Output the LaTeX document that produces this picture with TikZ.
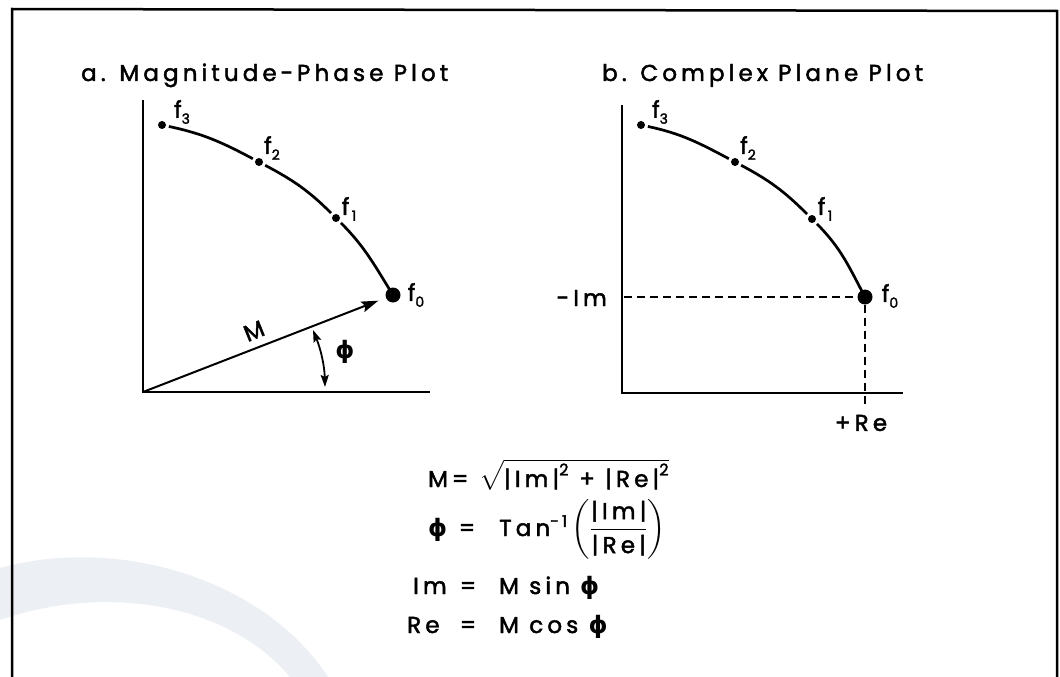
\documentclass[tikz,border=0pt]{standalone}
\usepackage{fontspec}
\usepackage{amsmath}
\setmainfont{Poppins}
\newfontfamily\lab{Poppins}[LetterSpace=18, FakeBold=2]
\newfontfamily\dv{DejaVu Sans}
\usetikzlibrary{arrows.meta}
\definecolor{wm}{RGB}{236,239,244}
\newcommand\fsub[1]{\raisebox{-6pt}{\fontsize{14}{14}\selectfont #1}}
\newcommand\phisym{{\dv\bfseries ϕ}}
\tikzset{
  axisln/.style={line width=2.7pt},
  curveln/.style={line width=2.7pt},
  dashln/.style={line width=1.7pt, dash pattern=on 8pt off 5pt},
  sdot/.style={circle, fill, inner sep=0pt, minimum size=8pt, outer sep=3pt},
  bdot/.style={circle, fill, inner sep=0pt, minimum size=15pt},
  txt/.style={font=\lab\fontsize{23}{27}\selectfont, inner sep=0pt},
  flab/.style={font=\lab\fontsize{23}{27}\selectfont, inner sep=0pt},
  arr/.style={line width=2pt, -{Stealth[length=17pt,width=11pt,inset=3pt]}},
  dbl/.style={line width=1.8pt, {Stealth[length=12pt,width=8pt,inset=2pt]}-{Stealth[length=12pt,width=8pt,inset=2pt]}}
}
\begin{document}
\begin{tikzpicture}[x=1pt,y=-1pt]
\useasboundingbox (0,0) rectangle (1060,677);
% watermark
\fill[wm] (0,568) .. controls (120,535) and (265,580) .. (328,677) -- (290,677) .. controls (225,600) and (100,585) .. (0,620) -- cycle;
% frame
\draw[line width=2.5pt] (12,677) -- (12,9) -- (1057,11) -- (1057,677);

% titles
\node[txt, anchor=base west] (ta) at (81,81) {a. Magnitude\,-\,Phase Plot};
\node[txt, anchor=base west] (tb) at (602,81) {b. Complex Plane Plot};

% ---- left plot
\coordinate (o1) at (143,392);
\coordinate (ytop1) at (143,100);
\coordinate (xend1) at (430,392);
\draw[axisln] (ytop1) -- (o1) -- (xend1);
\node[sdot] (a3) at (162,125) {};
\node[sdot] (a2) at (259,162) {};
\node[sdot] (a1) at (336,218) {};
\node[bdot] (a0) at (393,295) {};
\draw[curveln] (a3) to[out=-12,in=152] (a2) to[out=-28,in=135] (a1) to[out=-45,in=122] (a0.center);
\node[flab] (la3) at (182,112) {f\fsub{3}};
\node[flab] (la2) at (272,148) {f\fsub{2}};
\node[flab] (la1) at (349,209) {f\fsub{\,1}};
\node[flab] (la0) at (416,295) {f\fsub{0}};
\draw[arr, shorten >=8pt] (o1) -- (a0);
\node[txt, rotate=22] (mlab) at (254,331) {M};
\coordinate (p1) at (313,330);
\coordinate (p2) at (325,387);
\draw[dbl] (p1) .. controls (321,350) and (324.5,366) .. (p2);
\node[inner sep=0pt, font=\fontsize{24}{28}\selectfont] (phil) at (345,352) {\phisym};

% ---- right plot
\coordinate (o2) at (622,393);
\coordinate (ytop2) at (622,105);
\coordinate (xend2) at (903,393);
\draw[axisln] (ytop2) -- (o2) -- (xend2);
\node[sdot] (b3) at (641,125) {};
\node[sdot] (b2) at (735,162) {};
\node[sdot] (b1) at (812,219) {};
\node[bdot] (b0) at (865,297) {};
\draw[curveln] (b3) to[out=-12,in=152] (b2) to[out=-28,in=135] (b1) to[out=-45,in=118] (b0.center);
\node[flab] (lb3) at (660,112) {f\fsub{3}};
\node[flab] (lb2) at (748,148) {f\fsub{2}};
\node[flab] (lb1) at (825,209) {f\fsub{\,1}};
\node[flab] (lb0) at (890,296) {f\fsub{0}};
\coordinate (imx) at (624,297);
\coordinate (ret) at (865,404);
\draw[dashln] (imx) -- (b0);
\draw[dashln] (b0) -- (ret);
\node[txt, anchor=east] (iml) at (607,298) {-Im};
\node[txt] (rel) at (861,423) {+Re};

% ---- formulas
\node[txt, anchor=base west] (e1l) at (428,487) {M\,=};
\node[txt, anchor=base west] (e1r) at (479,487) {$\sqrt{\text{|Im|}^{\text{2}}\text{ + |Re|}^{\text{2}}}$};
\node[txt, anchor=base west, font=\fontsize{24}{28}\selectfont] (e2l) at (428,536) {\phisym};
\node[txt, anchor=base] (e2e) at (467,536) {=};
\node[txt, anchor=base west] (e2r) at (499,536) {Tan$^{\text{-1}}\left(\dfrac{\text{|Im|}}{\text{|Re|}}\right)$};
\node[txt, anchor=base west] (e3l) at (413,594) {Im};
\node[txt, anchor=base] (e3e) at (468,594) {=};
\node[txt, anchor=base west] (e3r) at (499,594) {M sin {\fontsize{24}{28}\selectfont\phisym}};
\node[txt, anchor=base west] (e4l) at (407,633) {Re};
\node[txt, anchor=base] (e4e) at (468,633) {=};
\node[txt, anchor=base west] (e4r) at (499,633) {M cos {\fontsize{24}{28}\selectfont\phisym}};
\end{tikzpicture}
\end{document}
